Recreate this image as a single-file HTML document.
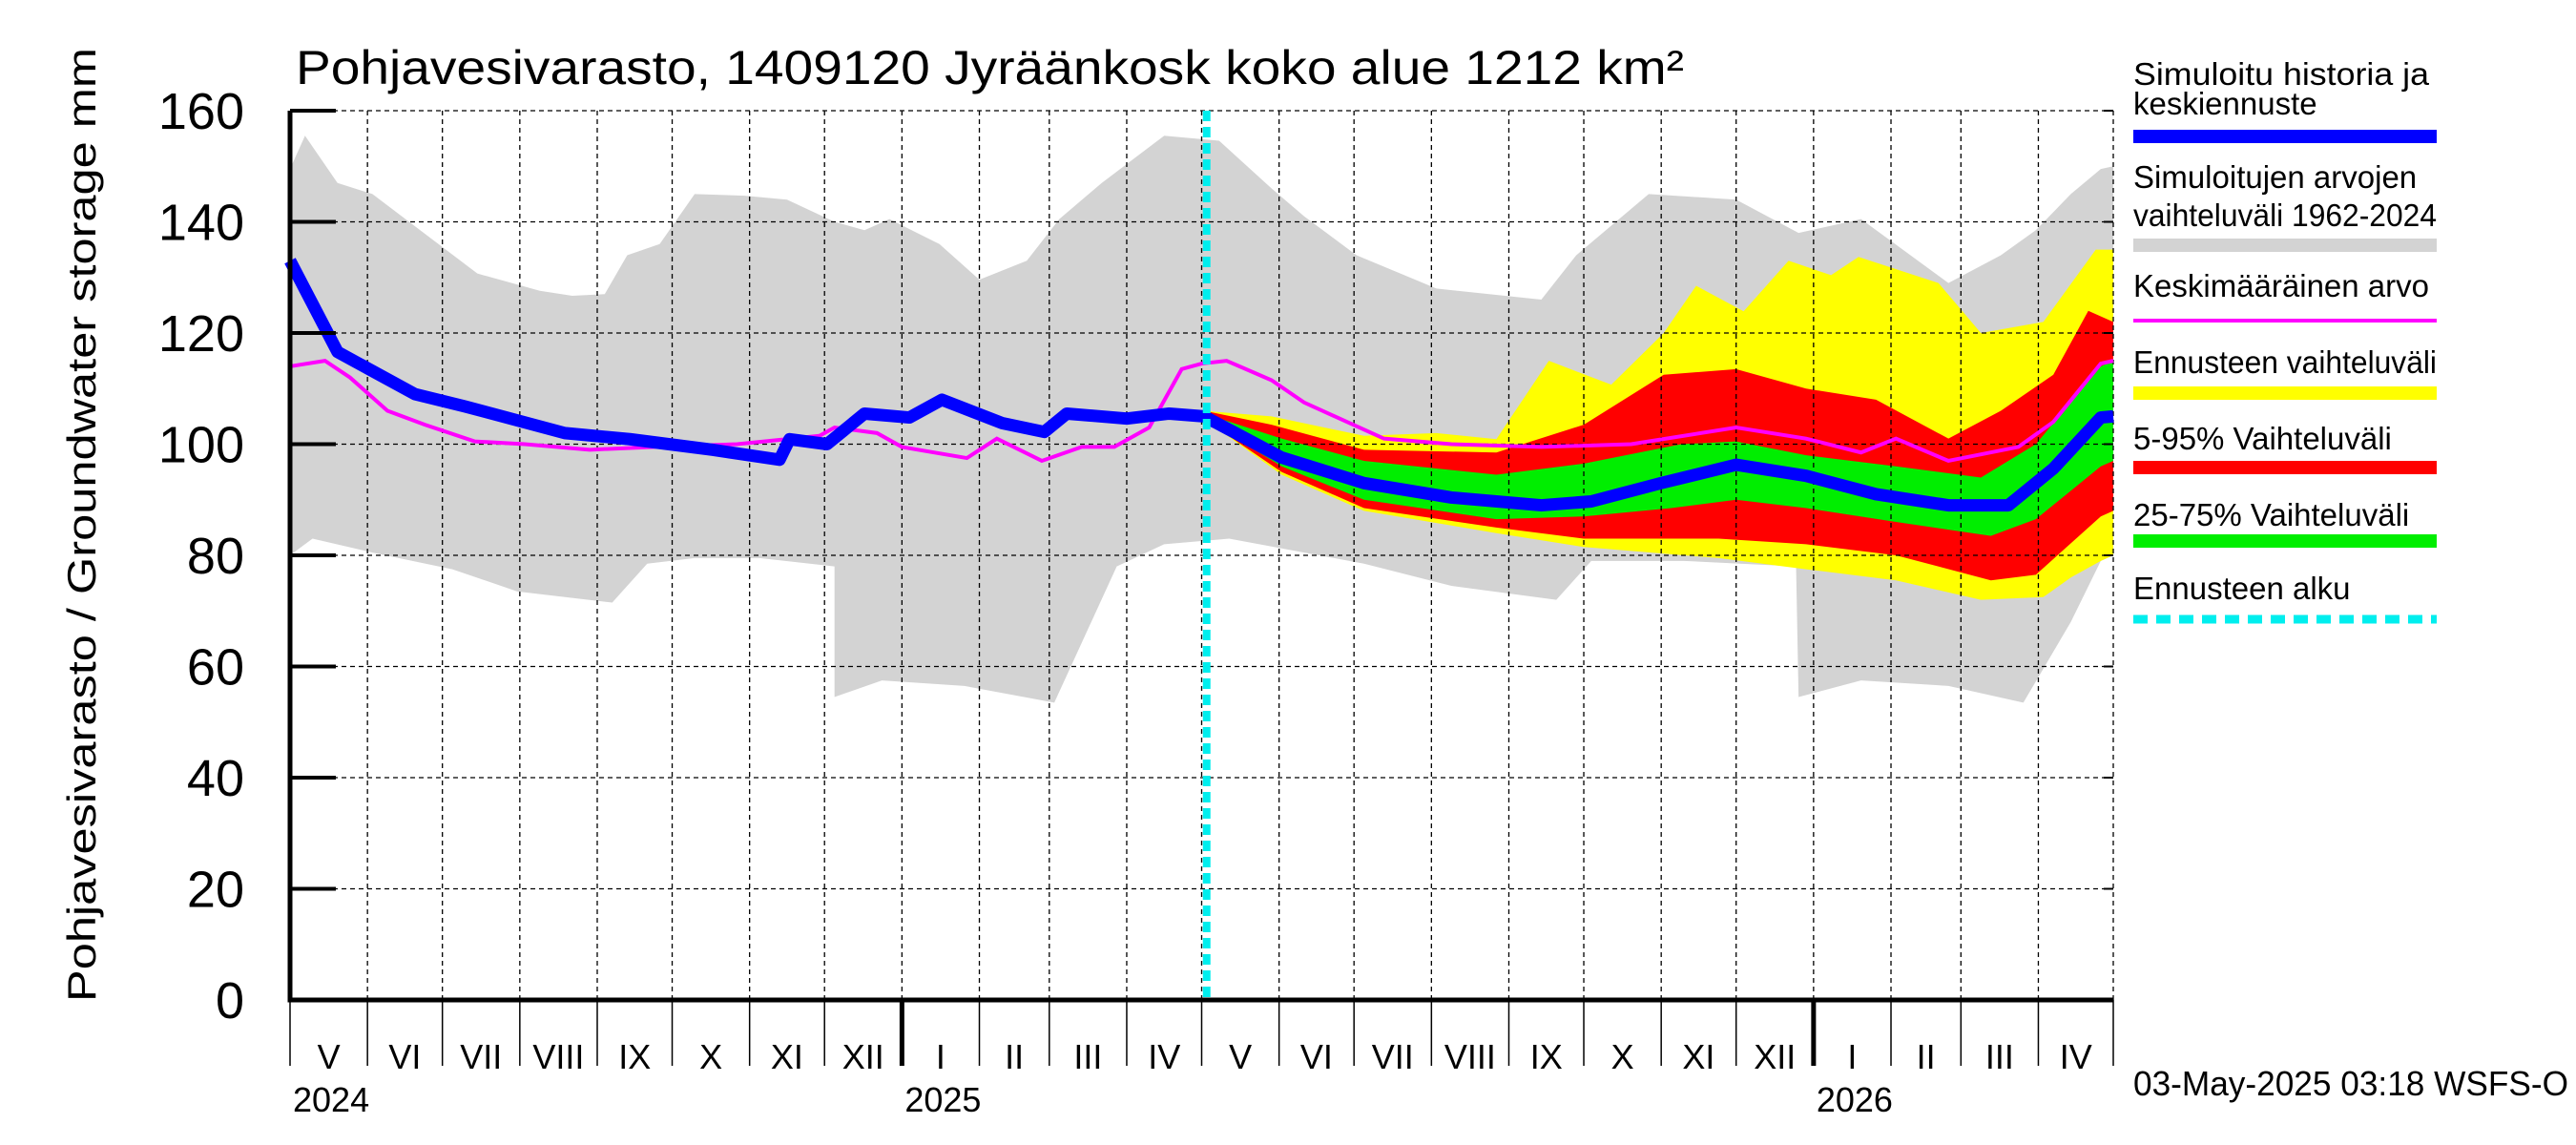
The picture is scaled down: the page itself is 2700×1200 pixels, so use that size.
<!DOCTYPE html>
<html><head><meta charset="utf-8"><style>
html,body{margin:0;padding:0;background:#fff;overflow:hidden}
svg{display:block}
text{font-family:"Liberation Sans",sans-serif;fill:#000}
</style></head><body>
<svg id="chart" width="2700" height="1200" viewBox="0 0 2700 1200" xmlns="http://www.w3.org/2000/svg">
<g id="bands"></g><g id="grid"></g><g id="lines"></g><g id="axes"></g>
<text x="310" y="88" font-size="50" textLength="1455" lengthAdjust="spacingAndGlyphs">Pohjavesivarasto, 1409120 Jyräänkosk koko alue 1212 km²</text>
<text transform="translate(100,1050) rotate(-90)" font-size="42" textLength="1000" lengthAdjust="spacingAndGlyphs">Pohjavesivarasto / Groundwater storage   mm</text>
<g>
<text x="2236" y="89" font-size="33" textLength="310" lengthAdjust="spacingAndGlyphs">Simuloitu historia ja</text>
<text x="2236" y="120" font-size="33">keskiennuste</text>
<rect x="2236" y="136" width="318" height="14" fill="#0000ff"/>
<text x="2236" y="197" font-size="33">Simuloitujen arvojen</text>
<text x="2236" y="237" font-size="33" textLength="318" lengthAdjust="spacingAndGlyphs">vaihteluväli 1962-2024</text>
<rect x="2236" y="250" width="318" height="14" fill="#d3d3d3"/>
<text x="2236" y="311" font-size="33">Keskimääräinen arvo</text>
<rect x="2236" y="334" width="318" height="4" fill="#ff00ff"/>
<text x="2236" y="391" font-size="33" textLength="318" lengthAdjust="spacingAndGlyphs">Ennusteen vaihteluväli</text>
<rect x="2236" y="405" width="318" height="14" fill="#ffff00"/>
<text x="2236" y="471" font-size="33">5-95% Vaihteluväli</text>
<rect x="2236" y="483" width="318" height="14" fill="#ff0000"/>
<text x="2236" y="551" font-size="33">25-75% Vaihteluväli</text>
<rect x="2236" y="560" width="318" height="14" fill="#00ee00"/>
<text x="2236" y="628" font-size="33">Ennusteen alku</text>
<line x1="2236" x2="2554" y1="649" y2="649" stroke="#00eeee" stroke-width="9" stroke-dasharray="15,9"/>
</g>
<text x="2236" y="1148" font-size="36" textLength="456" lengthAdjust="spacingAndGlyphs">03-May-2025 03:18 WSFS-O</text>
</svg>
<script>
const grayUpDays=[0,6,19,33,75,100,113,126,135,148,162,182,199,218,230,240,260,276,295,308,325,350,372,393,406,427,459,501,515,544,579,604,629,664,685,699,713,725,730];
const grayUpVals=[149.5,155.5,147,145,130.7,127.6,126.7,127,134,136,145,144.7,144,140,138.5,140.5,136,129.6,133,140.5,147,155.5,154.6,146,141,134,128,126,134,145,144,138,140.5,129,134,138.5,145,149.5,150];
const grayLoDays=[0,9,33,65,91,129,143,162,188,218,218,237,270,306,331,350,376,430,465,507,521,558,603,604,629,664,694,713,725,730];
const grayLoVals=[80,83,80.5,77.5,73.5,71.5,78.5,79.5,79.5,78,54.5,57.5,56.5,53.5,78,82,83,78.5,74.5,72,79,79,78,54.5,57.5,56.5,53.5,68,79,80];
const yelUpDays=[366,393,430,459,483,504,529,550,563,582,600,617,628,660,677,702,723,730];
const yelUpVals=[106,105,101.5,102,100.9,115,110.7,120,128.5,123.9,133,130.4,133.7,129,120,122,135,135];
const yelLoDays=[366,397,430,483,518,572,607,643,677,702,713,725,730];
const yelLoVals=[104.5,94.5,88,84,81.5,79.5,77.5,75.5,72,72.5,76,79,80];
const redUpDays=[366,393,430,483,518,550,579,607,635,664,685,706,720,730];
const redUpVals=[106,103.5,99,98.5,103.5,112.5,113.5,110,108,101,106,112.5,124,122];
const redLoDays=[366,397,430,483,518,572,607,643,681,699,725,730];
const redLoVals=[104.5,95,88.5,85,83,83,82,80,75.5,76.5,87,88];
const grnUpDays=[366,397,430,483,518,557,579,607,643,677,699,725,730];
const grnUpVals=[105.5,101,97,94.5,96.5,100,100.5,98,96,94,100,114,115];
const grnLoDays=[366,397,430,483,518,553,579,607,643,681,699,725,730];
const grnLoVals=[104.5,96,90,86.5,87,88.5,90,88.5,86,83.5,86.5,96,97];
const blueDays=[0,19,50,70,110,136,169,196,200,215,230,248,261,285,302,311,335,352,366,397,430,465,501,521,549,579,607,635,664,688,706,725,730];
const blueVals=[133,116.6,109,106.8,102,100.9,99,97.2,100.9,100,105.5,104.8,108,103.8,102.2,105.5,104.6,105.5,105,97.6,93,90.4,89,89.7,93,96.3,94.3,91,89,89,95.6,104.8,105];
const magDays=[0,14,24,39,54,74,94,120,146,179,212,218,235,245,271,283,301,317,330,344,357,365,375,393,406,438,465,501,537,579,607,629,643,664,692,706,725,730];
const magVals=[114,115,112,106,103.5,100.5,100,99,99.5,100,101.5,103,102,99.5,97.5,101,97,99.5,99.5,103,113.5,114.5,115,111.5,107.5,101,100,99.5,100,103,101,98.5,101,97,99.5,104,114.5,115];
const monthLabels=["V","VI","VII","VIII","IX","X","XI","XII","I","II","III","IV","V","VI","VII","VIII","IX","X","XI","XII","I","II","III","IV"];
const monthLengths=[31,30,31,31,30,31,30,31,31,28,31,30,31,30,31,31,30,31,30,31,31,28,31,30];
const yTicks=[0,20,40,60,80,100,120,140,160];
const yearLabels=["2024","2025","2026"];
const forecastDay=367;

const X0=304,X1=2215,Y0=1048,Y1=116,TOTAL=730;
const xs=d=>X0+d*(X1-X0)/TOTAL;
const ys=v=>Y0-v*(Y0-Y1)/160;
const NS="http://www.w3.org/2000/svg";
function mk(parent,tag,attrs){const e=document.createElementNS(NS,tag);for(const k in attrs)e.setAttribute(k,attrs[k]);document.getElementById(parent).appendChild(e);return e;}
function band(upD,upV,loD,loV,fill,name){
  let pts=upD.map((d,i)=>xs(d)+","+ys(upV[i]));
  for(let i=loD.length-1;i>=0;i--)pts.push(xs(loD[i])+","+ys(loV[i]));
  const e=mk("bands","polygon",{points:pts.join(" "),fill:fill});
  
  
}
band(grayUpDays,grayUpVals,grayLoDays,grayLoVals,"#d3d3d3","history-range-band");
band(yelUpDays,yelUpVals,yelLoDays,yelLoVals,"#ffff00","forecast-range-band");
band(redUpDays,redUpVals,redLoDays,redLoVals,"#ff0000","forecast-5-95-band");
band(grnUpDays,grnUpVals,grnLoDays,grnLoVals,"#00ee00","forecast-25-75-band");

yTicks.forEach(v=>{
  if(v===0)return;
  const g=mk("grid","line",{x1:X0,x2:X1,y1:ys(v),y2:ys(v),stroke:"#000","stroke-width":1.3,"stroke-dasharray":"5,4"});
  
  
});
let acc=0;
const bounds=[0];
monthLengths.forEach(l=>{acc+=l;bounds.push(acc);});
bounds.forEach((d,i)=>{
  if(i>0){
    const g=mk("grid","line",{x1:xs(d),x2:xs(d),y1:Y1,y2:Y0,stroke:"#000","stroke-width":1.3,"stroke-dasharray":"5,4"});
    
    
  }
});

const mag=mk("lines","polyline",{points:magDays.map((d,i)=>xs(d)+","+ys(magVals[i])).join(" "),fill:"none",stroke:"#ff00ff","stroke-width":4});


const blue=mk("lines","polyline",{points:blueDays.map((d,i)=>xs(d)+","+ys(blueVals[i])).join(" "),fill:"none",stroke:"#0000ff","stroke-width":13,"stroke-linejoin":"round"});


const cy=mk("lines","line",{x1:xs(forecastDay),x2:xs(forecastDay),y1:Y1,y2:Y0,stroke:"#00eeee","stroke-width":8,"stroke-dasharray":"11,6"});



const ax=mk("axes","path",{d:`M${X0},${Y1} L${X0},${Y0} L${X1},${Y0}`,fill:"none",stroke:"#000","stroke-width":5});


yTicks.forEach(v=>{
  const t=mk("axes","line",{x1:X0,x2:X0+48,y1:ys(v),y2:ys(v),stroke:"#000","stroke-width":4});
  
  
  const tr=mk("axes","line",{x1:X1-10,x2:X1,y1:ys(v),y2:ys(v),stroke:"#000","stroke-width":2});
  
  
  const l=mk("axes","text",{x:256,y:ys(v)+19,"font-size":54,"text-anchor":"end"});
  l.textContent=v;
  
  
});
bounds.forEach((d,i)=>{
  const yearB=(i===8||i===20);
  const t=mk("axes","line",{x1:xs(d),x2:xs(d),y1:Y0,y2:1117,stroke:"#000","stroke-width":yearB?5:1.5});
  
  
  if(i<monthLabels.length){
    const m=mk("axes","text",{x:(xs(d)+xs(bounds[i+1]))/2,y:1120,"font-size":36,"text-anchor":"middle"});
    m.textContent=monthLabels[i];
    
    
  }
});
[0,8,20].forEach((bi,k)=>{
  const y=mk("axes","text",{x:xs(bounds[bi])+3,y:1165,"font-size":36});
  y.textContent=yearLabels[k];
  
  
});
</script>
</body></html>
